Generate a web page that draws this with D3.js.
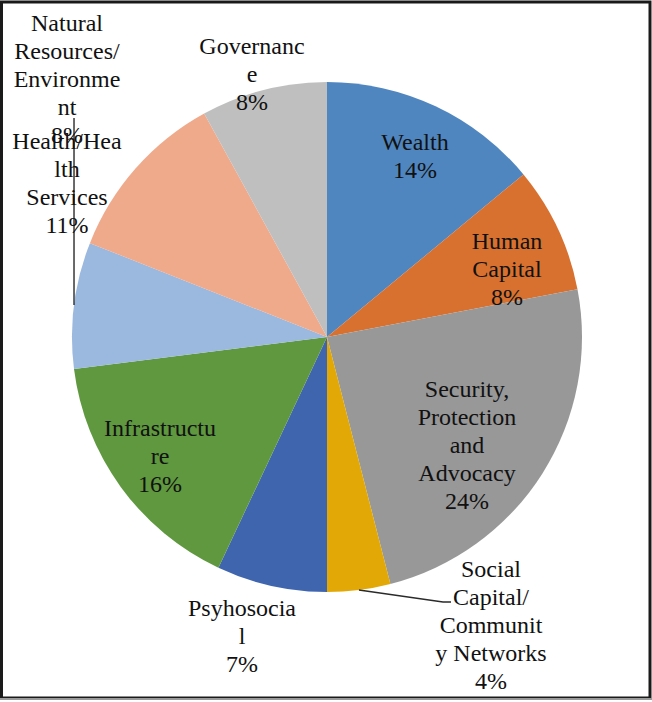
<!DOCTYPE html>
<html>
<head>
<meta charset="utf-8">
<script src="https://cdn.jsdelivr.net/npm/d3@7"></script>
</head>
<body style="margin:0">
<svg id="chart" width="652" height="702"></svg>
<script>
// Share of interventions by domain (percent), clockwise from 12 o'clock
const categories = [
  "Wealth",
  "Human Capital",
  "Security, Protection and Advocacy",
  "Social Capital/ Community Networks",
  "Psyhosocial",
  "Infrastructure",
  "Natural Resources/ Environment",
  "Health/Health Services",
  "Governance"
];
const shares = [14, 8, 24, 4, 7, 16, 8, 11, 8];

// Label text as wrapped inside the chart's narrow label boxes
const labelLines = [
  ["Wealth"],
  ["Human", "Capital"],
  ["Security,", "Protection", "and", "Advocacy"],
  ["Social", "Capital/", "Communit", "y Networks"],
  ["Psyhosocia", "l"],
  ["Infrastructu", "re"],
  ["Natural", "Resources/", "Environme", "nt"],
  ["Health/Hea", "lth", "Services"],
  ["Governanc", "e"]
];

const colors = ["#4f86bf", "#d8712f", "#989898", "#e2a805", "#3f65af",
                "#5f983e", "#9bb8de", "#efa98b", "#bfbfbf"];

// Layout
const W = 652, H = 702;
const cx = 327, cy = 337, R = 255;
const fontFamily = "Liberation Serif";
const fontSize = 24, lineH = 28;
// label block centres, relative to pie centre
const labelAt = [
  [88, -181], [180, -68], [140, 108], [164, 288], [-85, 299],
  [-167, 119], [-260, -258], [-260, -154], [-75, -263]
];

const svg = d3.select("#chart");

// outer frame
svg.append("rect").attr("x", 0).attr("y", 0).attr("width", W).attr("height", H).attr("fill", "#fff");
svg.append("rect")
  .attr("x", 1.5).attr("y", 2).attr("width", 648.5).attr("height", 696)
  .attr("fill", "none").attr("stroke", "#1a1a1a").attr("stroke-width", 3);
svg.append("line").attr("x1", 0).attr("x2", W).attr("y1", 699).attr("y2", 699)
  .attr("stroke", "#9a9a9a").attr("stroke-width", 2);

const pie = d3.pie().sort(null).value(d => d)(shares);
const arc = d3.arc().innerRadius(0).outerRadius(R);

const g = svg.append("g").attr("transform", `translate(${cx},${cy})`);

g.selectAll("path.slice")
  .data(pie)
  .join("path")
  .attr("class", "slice")
  .attr("d", arc)
  .attr("fill", (d, i) => colors[i]);

// leader lines for the two labels placed away from their slices
const mid = d => (d.startAngle + d.endAngle) / 2;
const leader = d3.line();
const natIdx = 6, socIdx = 3;
{
  const p = d3.pointRadial(mid(pie[natIdx]), R);
  g.append("path")
    .attr("d", leader([p, [p[0], 118 - cy]]))
    .attr("fill", "none").attr("stroke", "#2a2a2a").attr("stroke-width", 1.4);
}
{
  const p = d3.pointRadial(mid(pie[socIdx]), R);
  g.append("path")
    .attr("d", leader([p, [443 - cx, 602 - cy], [451 - cx, 602 - cy]]))
    .attr("fill", "none").attr("stroke", "#2a2a2a").attr("stroke-width", 1.4);
}

// data labels: name lines followed by the percentage
const labels = g.selectAll("g.label")
  .data(pie)
  .join("g")
  .attr("class", "label")
  .attr("transform", (d, i) => `translate(${labelAt[i][0]},${labelAt[i][1]})`);

labels.each(function (d, i) {
  const lines = labelLines[i].concat([d3.format("d")(d.data) + "%"]);
  const n = lines.length;
  const first = -(n - 1) / 2 * lineH + 8;
  d3.select(this).selectAll("text")
    .data(lines)
    .join("text")
    .attr("text-anchor", "middle")
    .attr("x", 0)
    .attr("y", (t, k) => first + k * lineH)
    .style("font-family", fontFamily)
    .style("font-size", fontSize + "px")
    .attr("fill", "#111")
    .text(t => t);
});
</script>
</body>
</html>
